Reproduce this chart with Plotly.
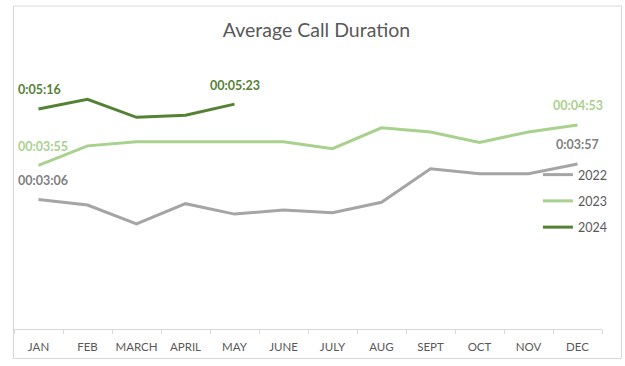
import plotly.graph_objects as go

months = ["JAN", "FEB", "MARCH", "APRIL", "MAY", "JUNE", "JULY", "AUG", "SEPT", "OCT", "NOV", "DEC"]
series_names = ["2022", "2023", "2024"]

# average call duration in seconds
sec_2022 = [186, 178, 151, 180, 165, 171, 167, 182, 230, 223, 223, 237]
sec_2023 = [235, 263, 269, 269, 269, 269, 259, 289, 283, 268, 283, 293]
sec_2024 = [316, 330, 304, 307, 323]

# data labels: (month index, text)
labels_2022 = [(0, "00:03:06"), (11, "0:03:57")]
labels_2023 = [(0, "00:03:55"), (11, "00:04:53")]
labels_2024 = [(0, "0:05:16"), (4, "00:05:23")]

line_colors = ["#A5A5A5", "#A9D18E", "#548235"]
label_colors = ["#7F7F7F", "#A9D18E", "#548235"]

FONT = "Lato, 'Open Sans', sans-serif"

fig = go.Figure()
all_series = [sec_2022, sec_2023, sec_2024]
all_labels = [labels_2022, labels_2023, labels_2024]

for name, vals, col in zip(series_names, all_series, line_colors):
    fig.add_trace(go.Scatter(
        x=months[:len(vals)], y=vals, mode="lines", name=name,
        legendgroup=name,
        line=dict(color=col, width=3), hoverinfo="skip",
    ))

annotations = []
for vals, labs, col in zip(all_series, all_labels, label_colors):
    for idx, txt in labs:
        a = dict(x=months[idx], y=vals[idx], xref="x", yref="y", text=txt,
                 showarrow=False, yshift=19,
                 font=dict(family=FONT, size=12.5, color=col, weight="bold"))
        if idx == 0:
            a.update(xanchor="left", xshift=-23)
        annotations.append(a)

border = dict(color="#D9D9D9", width=1.2)
bx0, bx1 = -0.5 / 588, 607.5 / 588
by0, by1 = -29.5 / 271, 323.0 / 271

fig.update_layout(
    width=625, height=366,
    margin=dict(l=14, r=23, t=58, b=37, autoexpand=False),
    paper_bgcolor="white", plot_bgcolor="white",
    title=dict(text="Average Call Duration", x=316.5 / 625, xref="container",
               xanchor="center", y=1 - 30 / 366, yref="container", yanchor="middle",
               font=dict(family=FONT, size=19.5, color="#595959")),
    xaxis=dict(type="category", categoryorder="array", categoryarray=months,
               range=[-0.5, 11.5], showgrid=False, zeroline=False, automargin=False,
               showline=True, linecolor="#D9D9D9", linewidth=1, tickangle=0,
               ticks="outside", ticklen=4, tickcolor="#D9D9D9", tickson="boundaries",
               ticklabelstandoff=7,
               tickfont=dict(family=FONT, size=11.5, color="#595959")),
    yaxis=dict(visible=False, range=[0, 389.2], showgrid=False, zeroline=False,
               automargin=False),
    legend=dict(x=0.891, xanchor="left", y=0.6236, yanchor="top",
                bgcolor="rgba(0,0,0,0)", borderwidth=0, tracegroupgap=7,
                font=dict(family=FONT, size=12.5, color="#595959")),
    annotations=annotations,
    shapes=[
        dict(type="line", xref="paper", yref="paper", x0=bx0, x1=bx0, y0=by0, y1=by1, line=border),
        dict(type="line", xref="paper", yref="paper", x0=bx1, x1=bx1, y0=by0, y1=by1, line=border),
        dict(type="line", xref="paper", yref="paper", x0=bx0, x1=bx1, y0=by0, y1=by0, line=border),
        dict(type="line", xref="paper", yref="paper", x0=bx0, x1=bx1, y0=by1, y1=by1, line=border),
    ],
)

fig.write_html("out.html", config={"displayModeBar": False},
               post_script="document.body.style.margin='0';document.body.style.overflow='hidden';")
